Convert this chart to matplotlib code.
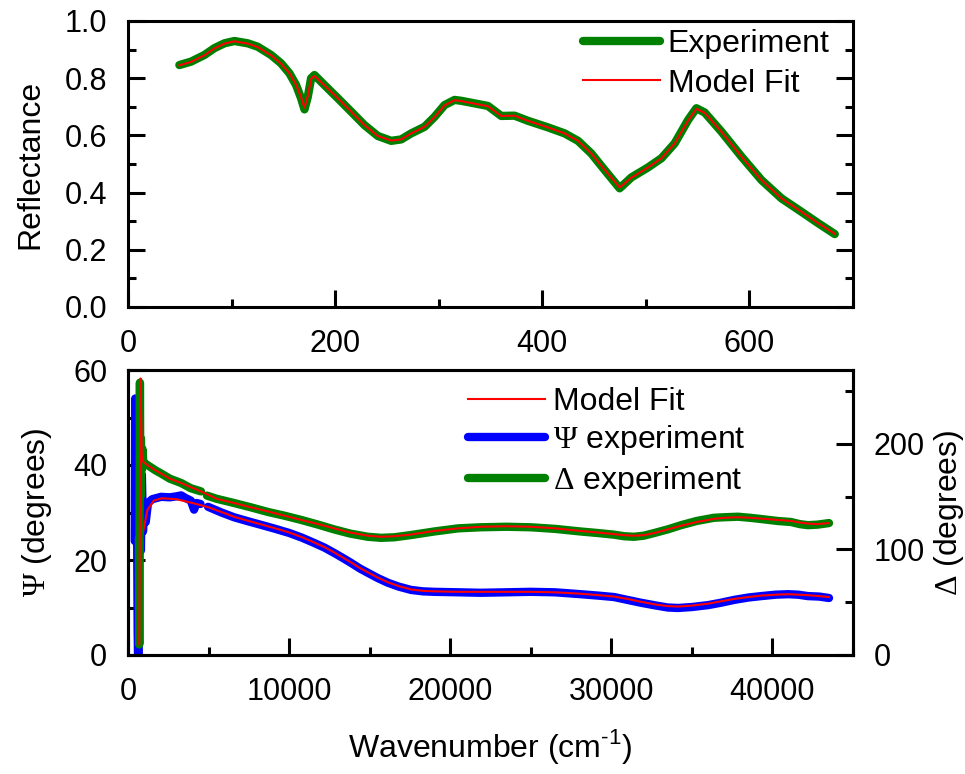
import numpy as np
import matplotlib
matplotlib.use("Agg")
import matplotlib.pyplot as plt
from matplotlib.ticker import MultipleLocator

plt.rcParams['font.family'] = ['Liberation Sans', 'DejaVu Sans']
plt.rcParams['mathtext.fontset'] = 'custom'
plt.rcParams['mathtext.rm'] = 'Liberation Sans'
plt.rcParams['mathtext.tt'] = 'Liberation Serif'

# --- reflectance (top panel) ---
refl_x = [49.6, 60.9, 73.7, 83.4, 93.1, 102.7, 115.6, 125.3, 138.2, 147.8, 155.9, 162.3,
          167.1, 170.4, 173.6, 176.8, 180, 189.7, 202.6, 215.5, 228.3, 241.2, 254.1,
          263.8, 273.4, 286.3, 296, 305.6, 315.3, 321.7, 334.6, 347.5, 360.4, 373.2,
          386.2, 405.5, 421.6, 434.5, 447.3, 460.2, 474.7, 486, 502.1, 515, 527.8,
          540.8, 548.8, 556.8, 573, 592.3, 611.6, 630.9, 650.2, 666.4, 682.4]
refl_exp = [0.846, 0.858, 0.881, 0.905, 0.922, 0.930, 0.922, 0.910, 0.881, 0.852, 0.817,
            0.776, 0.730, 0.691, 0.735, 0.800, 0.811, 0.776, 0.730, 0.683, 0.636, 0.598,
            0.581, 0.586, 0.607, 0.630, 0.665, 0.706, 0.724, 0.721, 0.712, 0.703, 0.668,
            0.669, 0.651, 0.628, 0.607, 0.581, 0.537, 0.479, 0.415, 0.453, 0.488, 0.520,
            0.572, 0.654, 0.695, 0.680, 0.613, 0.526, 0.444, 0.380, 0.333, 0.293, 0.255]
refl_fit = [0.845, 0.857, 0.880, 0.904, 0.921, 0.929, 0.921, 0.909, 0.880, 0.851, 0.817,
            0.777, 0.733, 0.697, 0.738, 0.798, 0.808, 0.775, 0.730, 0.683, 0.636, 0.598,
            0.582, 0.586, 0.607, 0.630, 0.664, 0.705, 0.723, 0.720, 0.711, 0.702, 0.668,
            0.669, 0.651, 0.628, 0.607, 0.581, 0.537, 0.480, 0.418, 0.452, 0.488, 0.520,
            0.572, 0.652, 0.693, 0.679, 0.613, 0.526, 0.444, 0.380, 0.333, 0.293, 0.256]

# --- ellipsometry (bottom panel) ---
psi_x = [420, 450, 500, 560, 600, 620, 660, 700, 760, 800, 860, 930, 1000, 1100, 1240,
         1500, 2050, 2600, 3000, 3300, 3600, 3900, 4100, 4250, 4500, np.nan, 4970, 5800,
         6580, 7400, 8260, 9100, 10000, 10800, 11550, 12200, 12790, 13300, 13840, 14400,
         14890, 15500, 16140, 16800, 17570, 18300, 19000, 20500, 21900, 23500, 25000,
         26500, 28100, 29200, 30170, 31000, 31840, 32800, 33500, 34140, 35000, 36000,
         36800, 37620, 38500, 39300, 40200, 40970, 41600, 42200, 42900, 43510]
psi_exp = [24, 54, 50, 30, 5, 0, 0, 35, 40, 22, 38, 26, 31, 28, 32,
           32.8, 33.3, 33.2, 33.4, 33.6, 33.0, 32.5, 30.6, 32.0, 31.8, np.nan, 31.2, 30.0,
           29.0, 28.2, 27.4, 26.6, 25.7, 24.7, 23.6, 22.6, 21.5, 20.5, 19.4, 18.2,
           17.3, 16.2, 15.2, 14.4, 13.7, 13.4, 13.3, 13.2, 13.1, 13.2, 13.3,
           13.2, 12.8, 12.5, 12.2, 11.6, 11.0, 10.4, 10.0, 9.9, 10.1, 10.5,
           11.0, 11.6, 12.1, 12.4, 12.7, 12.8, 12.7, 12.4, 12.3, 12.0]
psi_fit_x = [640, 700, 760, 800, 880, 1000, 1200, 1600, 2100, 3000, 4000, 5000, 5800,
             6580, 7400, 8260, 9100, 10000, 10800, 11550, 12200, 12790, 13300, 13840,
             14400, 14890, 15500, 16140, 16800, 17570, 18300, 19000, 20500, 21900, 23500,
             25000, 26500, 28100, 29200, 30170, 31000, 31840, 32800, 33500, 34140, 35000,
             36000, 36800, 37620, 38500, 39300, 40200, 40970, 41600, 42200, 42900, 43510]
psi_fit = [2, 20, 45, 30, 25, 27, 30.5, 32.5, 33.0, 32.8, 32.0, 31.1, 30.1,
           29.1, 28.3, 27.5, 26.7, 25.8, 24.8, 23.7, 22.7, 21.6, 20.6, 19.5,
           18.3, 17.4, 16.3, 15.3, 14.5, 13.8, 13.5, 13.4, 13.3, 13.3, 13.3,
           13.3, 13.2, 12.9, 12.6, 12.3, 11.8, 11.2, 10.6, 10.3, 10.2, 10.4,
           10.8, 11.3, 11.8, 12.2, 12.5, 12.7, 12.8, 12.7, 12.6, 12.4, 12.2]

delta_x = [680, 700, 740, 770, 800, 850, 900, 960, 1000, 1300, 1700, 2050, 2600, 3290,
           3900, 4530, np.nan, 4900, 5500, 6580, 7600, 8690, 9700, 10740, 11800, 12790,
           13800, 14890, 15700, 16510, 17500, 19000, 20500, 21900, 23500, 25000, 26500,
           28100, 29200, 30170, 30800, 31400, 32000, 32650, 33500, 34330, 35300, 36370,
           37000, 37860, 38600, 39480, 40300, 41150, 41700, 42200, 42800, 43510]
delta_exp = [110, 10, 258, 150, 205, 175, 195, 180, 182, 179, 175, 172, 167, 163,
             158, 155, np.nan, 151, 148, 144, 140, 135.5, 132, 128, 123.5, 119,
             115, 112, 111, 111.5, 113.5, 117, 120, 121, 121.5, 121, 119.5,
             117, 115.5, 114, 112.5, 112, 113, 115.5, 119, 123, 127, 130,
             130.5, 131, 130, 128.5, 127, 126, 124, 123, 123.5, 125]
delta_fit_x = [700, 780, 850, 950, 1100, 1300, 1700, 2050, 2600, 3290, 3900, 4530, 5500,
               6580, 7600, 8690, 9700, 10740, 11800, 12790, 13800, 14890, 15700, 16510,
               17500, 19000, 20500, 21900, 23500, 25000, 26500, 28100, 29200, 30170,
               30800, 31400, 32000, 32650, 33500, 34330, 35300, 36370, 37000, 37860,
               38600, 39480, 40300, 41150, 41700, 42200, 42800, 43510]
delta_fit = [10, 262, 190, 183, 181, 179, 175, 172, 167, 163, 159, 155, 148,
             144, 140, 136, 132, 128, 124, 120, 116, 113, 112, 112.5,
             114, 117.5, 120, 121.5, 122, 121.5, 120, 117.5, 116, 114.5,
             113.5, 113, 113.5, 115.5, 119, 122.5, 126, 129, 130, 130.5,
             130, 129, 128, 127, 125.5, 124.5, 124, 125]

fig = plt.figure(figsize=(9.65, 7.74), dpi=100)
W, H = 965, 774
ax1 = fig.add_axes([128 / W, 1 - 307 / H, 725 / W, 286 / H])
ax2 = fig.add_axes([128 / W, 1 - 655 / H, 725 / W, 285 / H])
ax3 = ax2.twinx()

green, blue, red = '#008000', '#0000ff', '#ff0000'
thick, thin = 6, 1.5
fs_tick, fs_lab = 22, 23

ax1.plot(refl_x, refl_exp, color=green, lw=thick, solid_capstyle='round',
         solid_joinstyle='round', label='Experiment')
ax1.plot(refl_x, refl_fit, color=red, lw=thin, label='Model Fit')
ax1.set_xlim(0, 700)
ax1.set_ylim(0, 1.0)
ax1.xaxis.set_major_locator(MultipleLocator(200))
ax1.xaxis.set_minor_locator(MultipleLocator(100))
ax1.yaxis.set_major_locator(MultipleLocator(0.2))
ax1.yaxis.set_minor_locator(MultipleLocator(0.1))
ax1.yaxis.set_major_formatter(plt.FormatStrFormatter('%.1f'))
ax1.set_ylabel('Reflectance', fontsize=fs_lab, labelpad=14)
ax1.legend(loc='upper left', bbox_to_anchor=(583 / W, 1 - 29 / H),
           bbox_transform=fig.transFigure, frameon=False, fontsize=fs_lab,
           handlelength=2.4, handletextpad=0.25, labelspacing=0.3,
           borderpad=0, borderaxespad=0)

ax2.plot(psi_x, psi_exp, color=blue, lw=thick, solid_capstyle='round',
         solid_joinstyle='round')
ax2.plot(psi_fit_x, psi_fit, color=red, lw=thin)
ax3.plot(delta_x, delta_exp, color=green, lw=thick, solid_capstyle='round',
         solid_joinstyle='round')
ax3.plot(delta_fit_x, delta_fit, color=red, lw=thin)
ax2.set_xlim(0, 45000)
ax2.set_ylim(0, 60)
ax3.set_ylim(0, 270)
ax2.xaxis.set_major_locator(MultipleLocator(10000))
ax2.xaxis.set_minor_locator(MultipleLocator(5000))
ax2.yaxis.set_major_locator(MultipleLocator(20))
ax2.yaxis.set_minor_locator(MultipleLocator(10))
ax3.yaxis.set_major_locator(MultipleLocator(100))
ax3.yaxis.set_minor_locator(MultipleLocator(50))
ax2.set_ylabel(r'$\mathtt{\Psi}$ (degrees)', fontsize=fs_lab, labelpad=14)
ax3.set_ylabel(r'$\mathtt{\Delta}$ (degrees)', fontsize=fs_lab, labelpad=5)
ax2.set_xlabel(r'Wavenumber (cm$^{\text{-1}}$)', fontsize=fs_lab, labelpad=14)

handles = [
    plt.Line2D([], [], color=red, lw=thin),
    plt.Line2D([], [], color=blue, lw=thick, solid_capstyle='round'),
    plt.Line2D([], [], color=green, lw=thick, solid_capstyle='round'),
]
labels = ['Model Fit', r'$\mathtt{\Psi}$ experiment', r'$\mathtt{\Delta}$ experiment']
ax3.legend(handles, labels, loc='upper left', bbox_to_anchor=(468 / W, 1 - 387 / H),
           bbox_transform=fig.transFigure, frameon=False, fontsize=fs_lab,
           handlelength=2.4, handletextpad=0.25, labelspacing=0.2,
           borderpad=0, borderaxespad=0)

for ax in (ax1, ax2, ax3):
    for s in ax.spines.values():
        s.set_linewidth(2.2)
    ax.tick_params(which='both', direction='in', width=2.2, labelsize=fs_tick, pad=15)
    ax.tick_params(which='major', length=12)
    ax.tick_params(which='minor', length=6)

ax1.tick_params(axis='y', which='both', right=True, length=3)
ax1.tick_params(axis='y', which='major', left=True, length=12)
ax1.tick_params(axis='y', which='minor', left=True, length=6)
ax1.tick_params(axis='x', pad=16)
ax2.tick_params(axis='x', pad=16)
ax3.tick_params(axis='y', which='both', right=True, left=False)

fig.savefig('out.png', dpi=100)
